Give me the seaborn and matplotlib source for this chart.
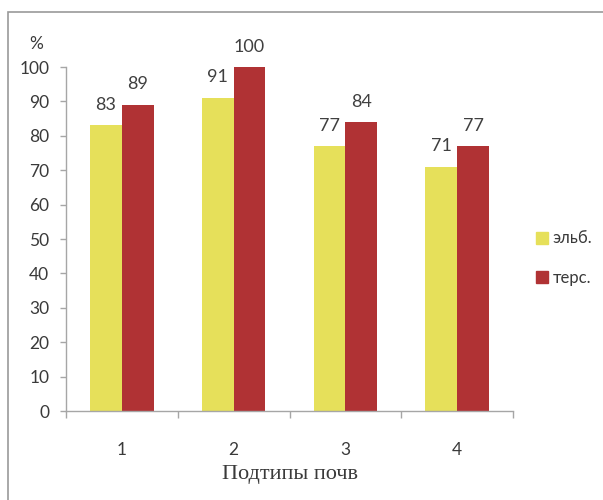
import matplotlib
matplotlib.use("Agg")
import matplotlib.pyplot as plt
from matplotlib.lines import Line2D
from matplotlib.patches import Rectangle
import pandas as pd
import seaborn as sns

categories = ["1", "2", "3", "4"]
series_names = ["эльб.", "терс."]
elb_values = [83, 91, 77, 71]
ters_values = [89, 100, 84, 77]
y_ticks = [0, 10, 20, 30, 40, 50, 60, 70, 80, 90, 100]

colors = ["#E6E05A", "#B03234"]

df = pd.DataFrame({
    "cat": categories * 2,
    "series": [series_names[0]] * 4 + [series_names[1]] * 4,
    "value": elb_values + ters_values,
})

sns.set_theme(style="white")
plt.rcParams["font.family"] = ["Lato", "DejaVu Sans"]

fig = plt.figure(figsize=(6.03, 5.0), dpi=100)
ax = fig.add_axes([66 / 603, 89 / 500, 447 / 603, 344 / 500])

sns.barplot(data=df, x="cat", y="value", hue="series", order=categories,
            hue_order=series_names, palette=colors, width=0.57, gap=0,
            saturation=1, linewidth=0, ax=ax, legend=False)

ax.set_ylim(0, 100)
ax.set_xlim(-0.5, 3.5)
ax.set_yticks(y_ticks)
ax.set_xlabel("")
ax.set_ylabel("")

axis_color = "#A6A6A6"
text_color = "#3A3A3A"
for side in ["top", "right"]:
    ax.spines[side].set_visible(False)
for side in ["left", "bottom"]:
    ax.spines[side].set_color(axis_color)
    ax.spines[side].set_linewidth(1.0)

ax.tick_params(axis="y", which="major", length=4, width=1.0, color=axis_color,
               labelsize=12.5, labelcolor=text_color, pad=8, left=True)
ax.set_xticks([-0.5, 0.5, 1.5, 2.5, 3.5], minor=True)
ax.tick_params(axis="x", which="minor", length=5, width=1.0, color=axis_color,
               bottom=True)
ax.tick_params(axis="x", which="major", length=0, labelsize=12.5,
               labelcolor=text_color, pad=22)

for container in ax.containers:
    ax.bar_label(container, fmt="%d", padding=9, fontsize=13, color="#404040")

fig.text(289.5 / 603, 1 - 475 / 500, "Подтипы почв", ha="center", va="center",
         fontsize=16, family=["Liberation Serif", "DejaVu Serif"], color=text_color)
fig.text(36 / 603, 1 - 44 / 500, "%", ha="center", va="center", fontsize=12.5,
         color=text_color)

handles = [Line2D([0], [0], marker="s", linestyle="none", markersize=9,
                  markerfacecolor=c, markeredgecolor=c) for c in colors]
fig.legend(handles, series_names, loc="center left",
           bbox_to_anchor=(519 / 603, 1 - 258 / 500), frameon=False,
           fontsize=12, handletextpad=0.1, labelspacing=1.4,
           handlelength=1.0, labelcolor=text_color)

frame = Rectangle((8 / 603, -0.05), 1.2, 1 - 12 / 500 + 0.05,
                  transform=fig.transFigure, fill=False,
                  edgecolor="#9A9A9A", linewidth=1.2, clip_on=False)
fig.patches.append(frame)

fig.savefig("out.png", dpi=100)
